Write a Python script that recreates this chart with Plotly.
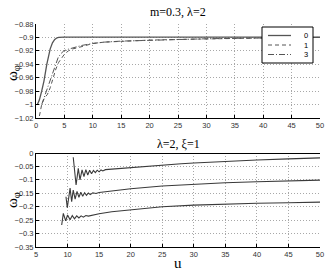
import plotly.graph_objects as go
from plotly.subplots import make_subplots

# ---- top panel data (m=0.3, lambda=2) ----
u_c0 = [0.25, 0.6, 1.0, 1.4, 1.9, 2.2, 2.5, 2.9, 3.3, 3.7, 4.0, 5, 7, 10, 15, 20, 30, 40, 50]
c0 = [-1.0, -0.993, -0.98, -0.965, -0.94, -0.928, -0.917, -0.908, -0.903, -0.9005, -0.8998, -0.8995, -0.8995, -0.8995, -0.8995, -0.8995, -0.8995, -0.8995, -0.8995]

u_c1 = [0.6, 1.0, 1.5, 2.0, 2.5, 3.0, 3.5, 4.0, 4.5, 5.0, 5.7, 6.5, 7.5, 9, 10, 12, 15, 20, 25, 30, 35, 40, 45, 50]
c1 = [-1.017, -1.0, -0.99, -0.985, -0.975, -0.96, -0.947, -0.937, -0.93, -0.925, -0.92, -0.917, -0.915, -0.911, -0.909, -0.907, -0.9055, -0.904, -0.903, -0.902, -0.9013, -0.9008, -0.9004, -0.9]

u_c3 = [1.0, 1.4, 1.9, 2.4, 2.9, 3.4, 3.9, 4.4, 4.9, 5.5, 6.2, 7.0, 8, 10, 12, 15, 20, 25, 30, 35, 40, 45, 50]
c3 = [-1.0, -0.99, -0.98, -0.965, -0.952, -0.94, -0.93, -0.924, -0.92, -0.918, -0.916, -0.914, -0.912, -0.909, -0.907, -0.9055, -0.904, -0.903, -0.902, -0.9013, -0.9008, -0.9004, -0.9]

legend_names = ["0", "1", "3"]

# ---- bottom panel data (lambda=2, xi=1) ----
u_a = [10.9, 11.35, 11.7, 11.97, 12.3, 12.6, 12.9, 13.2, 13.5, 13.8, 14.1, 14.4, 14.7, 15.0, 15.3, 15.6, 16.0, 17, 18, 20, 22, 25, 28, 30, 35, 40, 45, 50]
a = [-0.016, -0.119, -0.057, -0.1, -0.063, -0.088, -0.062, -0.082, -0.064, -0.077, -0.065, -0.073, -0.064, -0.07, -0.063, -0.067, -0.062, -0.06, -0.058, -0.054, -0.05, -0.045, -0.04, -0.037, -0.031, -0.026, -0.022, -0.018]

u_b = [9.75, 9.96, 10.4, 10.65, 10.9, 11.2, 11.5, 11.8, 12.1, 12.4, 12.7, 13.0, 13.3, 13.6, 14.0, 14.5, 15, 17, 20, 25, 30, 35, 40, 45, 50]
b = [-0.163, -0.204, -0.131, -0.181, -0.138, -0.172, -0.143, -0.165, -0.146, -0.161, -0.148, -0.158, -0.149, -0.155, -0.148, -0.151, -0.147, -0.141, -0.133, -0.123, -0.116, -0.111, -0.107, -0.104, -0.101]

u_d = [9.07, 9.33, 9.7, 10.0, 10.4, 10.75, 11.1, 11.45, 11.8, 12.15, 12.5, 12.9, 13.3, 14, 15, 17, 20, 25, 30, 35, 40, 45, 50]
d = [-0.268, -0.225, -0.253, -0.231, -0.249, -0.233, -0.245, -0.234, -0.242, -0.234, -0.239, -0.233, -0.235, -0.231, -0.226, -0.219, -0.211, -0.2, -0.194, -0.19, -0.187, -0.185, -0.183]

top_x_ticks = [0, 5, 10, 15, 20, 25, 30, 35, 40, 45, 50]
top_y_ticks = [-1.02, -1.0, -0.98, -0.96, -0.94, -0.92, -0.9, -0.88]
top_y_text = ["\u22121.02", "\u22121", "\u22120.98", "\u22120.96", "\u22120.94", "\u22120.92", "\u22120.9", "\u22120.88"]
bot_x_ticks = [5, 10, 15, 20, 25, 30, 35, 40, 45, 50]
bot_y_ticks = [-0.35, -0.3, -0.25, -0.2, -0.15, -0.1, -0.05, 0]
bot_y_text = ["\u22120.35", "\u22120.3", "\u22120.25", "\u22120.2", "\u22120.15", "\u22120.1", "\u22120.05", "0"]

W, H = 327, 271
ML, MR, MT, MB = 36, 7, 24, 24
PW, PH = W - ML - MR, H - MT - MB


def px(xp):
    return (xp - ML) / PW


def py(yp):
    return (H - MB - yp) / PH


LINE_COL = "#555555"
top_styles = [dict(color=LINE_COL, width=1.3, dash="solid"),
              dict(color=LINE_COL, width=1, dash="4px,3px"),
              dict(color=LINE_COL, width=1, dash="6px,2px,1px,2px")]

fig = make_subplots(rows=2, cols=1)

for ux, vy, st, nm in zip([u_c0, u_c1, u_c3], [c0, c1, c3], top_styles, legend_names):
    fig.add_trace(go.Scatter(x=ux, y=vy, mode="lines", name=nm, showlegend=False,
                             line=st), row=1, col=1)

for ux, vy in [(u_a, a), (u_b, b), (u_d, d)]:
    fig.add_trace(go.Scatter(x=ux, y=vy, mode="lines", showlegend=False,
                             line=dict(color="#3a3a3a", width=1.1)), row=2, col=1)

tickfont = dict(family="Liberation Sans, Arial", size=7.5, color="#333")
axis_common = dict(showgrid=True, gridcolor="#a8a8a8", griddash="1px,2px", gridwidth=1,
                   showline=True, linecolor="black", linewidth=1, mirror=False,
                   ticks="inside", ticklen=3, tickcolor="black", tickfont=tickfont,
                   zeroline=False, automargin=False)

fig.update_xaxes(**axis_common)
fig.update_yaxes(**axis_common)

top_dom = [py(118), 1]
bot_dom = [0, py(153)]
fig.update_xaxes(range=[0, 50], tickvals=top_x_ticks, domain=[0, 1], row=1, col=1)
fig.update_yaxes(range=[-1.02, -0.88], tickvals=top_y_ticks, ticktext=top_y_text,
                 domain=top_dom, row=1, col=1)
fig.update_xaxes(range=[5, 50], tickvals=bot_x_ticks, domain=[0, 1], row=2, col=1)
fig.update_yaxes(range=[-0.35, 0], tickvals=bot_y_ticks, ticktext=bot_y_text,
                 domain=bot_dom, row=2, col=1, zeroline=True, zerolinecolor="black", zerolinewidth=1)

serif = "Liberation Serif, Times New Roman"
# titles
fig.add_annotation(text="m=0.3, \u03bb=2", xref="paper", yref="paper", x=px(178), y=py(12),
                   showarrow=False, yanchor="middle", xanchor="center",
                   font=dict(family=serif, size=12, color="black"))
fig.add_annotation(text="\u03bb=2, \u03be=1", xref="paper", yref="paper", x=px(178), y=py(144),
                   showarrow=False, yanchor="middle", xanchor="center",
                   font=dict(family=serif, size=12, color="black"))
# axis labels
for yc in [73, 200]:
    fig.add_annotation(text="\u03c9<sub>\u03c6</sub>", xref="paper", yref="paper", x=px(13), y=py(yc),
                       showarrow=False, textangle=-90, xanchor="center", yanchor="middle",
                       font=dict(family=serif, size=15, color="black"))
fig.add_annotation(text="u", xref="paper", yref="paper", x=px(178), y=py(263),
                   showarrow=False, xanchor="center", yanchor="middle",
                   font=dict(family=serif, size=15, color="black"))

# legend box
fig.add_shape(type="rect", xref="paper", yref="paper", x0=px(262), x1=px(313), y0=py(63), y1=py(27),
              line=dict(color="black", width=1), fillcolor="white", layer="above")
for yy, st, nm in zip([35.5, 45, 54.5], top_styles, legend_names):
    fig.add_shape(type="line", xref="paper", yref="paper", x0=px(268), x1=px(291), y0=py(yy), y1=py(yy),
                  line=st, layer="above")
    fig.add_annotation(text=nm, xref="paper", yref="paper", x=px(309), y=py(yy),
                       showarrow=False, xanchor="right", yanchor="middle",
                       borderpad=0,
                       font=dict(family="Liberation Sans, Arial", size=7.5, color="black"))

fig.update_layout(
    width=W, height=H,
    margin=dict(l=ML, r=MR, t=MT, b=MB),
    paper_bgcolor="white", plot_bgcolor="white",
    showlegend=False,
)

fig.write_html("out.html", config={"displayModeBar": False},
               post_script="document.body.style.margin='0px';document.documentElement.style.overflow='hidden';")
